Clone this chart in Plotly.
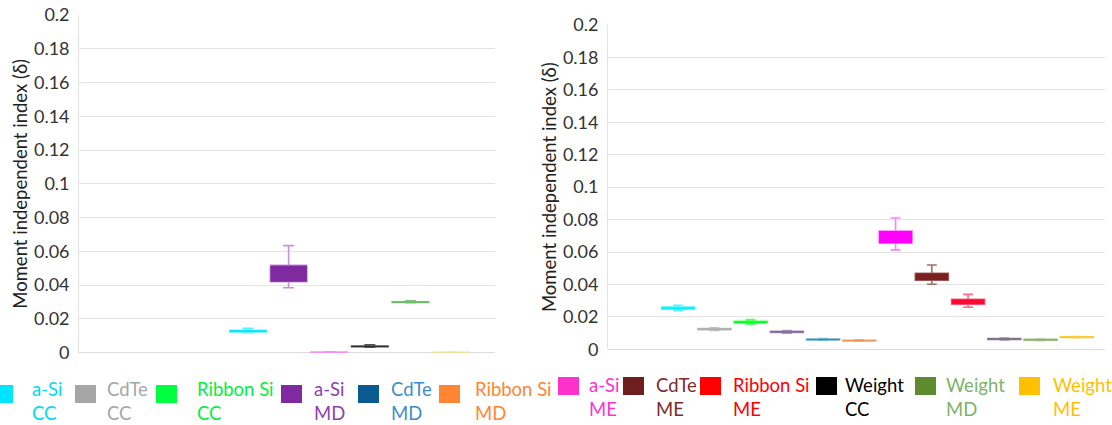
import plotly.graph_objects as go

# ---------------- data ----------------
legend_line1 = ["a-Si", "CdTe", "Ribbon Si", "a-Si", "CdTe", "Ribbon Si",
                "a-Si", "CdTe", "Ribbon Si", "Weight", "Weight", "Weight"]
legend_line2 = ["CC", "CC", "CC", "MD", "MD", "MD",
                "ME", "ME", "ME", "CC", "MD", "ME"]
all_cats = [a + " " + b for a, b in zip(legend_line1, legend_line2)]

tick_vals = [0, 0.02, 0.04, 0.06, 0.08, 0.1, 0.12, 0.14, 0.16, 0.18, 0.2]
tick_text = ["0", "0.02", "0.04", "0.06", "0.08", "0.1", "0.12", "0.14", "0.16", "0.18", "0.2"]

# left panel
left_cats = ["a-Si CC", "a-Si MD", "a-Si ME", "Weight CC", "Weight MD", "Weight ME"]
left_lf  = [0.0119, 0.0385, 0.0001, 0.0033, 0.0296, 0.0001]
left_q1  = [0.0123, 0.0420, 0.0002, 0.0035, 0.0298, 0.0002]
left_med = [0.0127, 0.0470, 0.0003, 0.0037, 0.0300, 0.0002]
left_q3  = [0.0133, 0.0517, 0.0004, 0.0040, 0.0302, 0.0003]
left_uf  = [0.0145, 0.0634, 0.0005, 0.0047, 0.0308, 0.0004]

# right panel
right_cats = all_cats
right_lf  = [0.0238, 0.0117, 0.0155, 0.0099, 0.0056, 0.0050, 0.0613, 0.0401, 0.0259, 0.0058, 0.0054, 0.0071]
right_q1  = [0.0248, 0.0121, 0.0163, 0.0104, 0.0058, 0.0052, 0.0654, 0.0426, 0.0278, 0.0061, 0.0056, 0.0073]
right_med = [0.0254, 0.0124, 0.0168, 0.0107, 0.0061, 0.0054, 0.0690, 0.0448, 0.0292, 0.0063, 0.0059, 0.0075]
right_q3  = [0.0260, 0.0128, 0.0173, 0.0111, 0.0063, 0.0056, 0.0730, 0.0469, 0.0308, 0.0066, 0.0061, 0.0077]
right_uf  = [0.0272, 0.0133, 0.0183, 0.0116, 0.0066, 0.0059, 0.0810, 0.0520, 0.0339, 0.0069, 0.0063, 0.0079]

# ---------------- styles ----------------
left_fill = ["#00E5FF", "#7F2A9F", "#FF66FF", "#222222", "#5BB45B", "#FFD966"]
left_line = ["#5CEFFF", "#C593D6", "#FF8AFF", "#555555", "#7CC47A", "#FFE08A"]

right_fill = ["#00F0FF", "#A6A6A6", "#00FF22", "#7A5A92", "#2F8DB0", "#F08A4B",
              "#FF00FF", "#7B2020", "#FF0A32", "#6A5A78", "#7FA257", "#FFC000"]
right_line = ["#55F6FF", "#BEBEBE", "#55FF66", "#A891B8", "#6FB3CC", "#F5A877",
              "#FF7DFF", "#A86A6A", "#FF6B85", "#958AA0", "#A2BE85", "#FFD24D"]

sq_colors = ["#00E5FF", "#A6A6A6", "#00FF40", "#7F2A9F", "#0B5A8F", "#FF8533",
             "#FF33CC", "#6E1E1E", "#FF0000", "#000000", "#5E8B2E", "#FFC000"]
txt_colors = ["#00D8F5", "#A6A6A6", "#00F040", "#8E3FB0", "#3F8CCB", "#FF8533",
              "#FF33CC", "#7B2C2C", "#FF0000", "#000000", "#7DB36A", "#FFC000"]

FONT = "Lato"
W, H = 1112, 425

fig = go.Figure()


def add_boxes(cats, lf, q1, med, q3, uf, fills, lines, xa, ya, bw):
    for i, c in enumerate(cats):
        fig.add_trace(go.Box(
            x=[c], q1=[q1[i]], median=[med[i]], q3=[q3[i]],
            lowerfence=[lf[i]], upperfence=[uf[i]],
            xaxis=xa, yaxis=ya, width=bw, whiskerwidth=0.3,
            fillcolor=fills[i], line=dict(color=lines[i], width=1.6),
            boxpoints=False, showlegend=False, name=c))
        fig.add_trace(go.Box(
            x=[c], q1=[q1[i]], median=[med[i]], q3=[q3[i]],
            lowerfence=[q1[i]], upperfence=[q3[i]],
            xaxis=xa, yaxis=ya, width=bw, whiskerwidth=0.3,
            fillcolor=fills[i], line=dict(color=fills[i], width=0),
            boxpoints=False, showlegend=False, name=c, hoverinfo="skip"))


add_boxes(left_cats, left_lf, left_q1, left_med, left_q3, left_uf,
          left_fill, left_line, "x", "y", 0.9)
add_boxes(right_cats, right_lf, right_q1, right_med, right_q3, right_uf,
          right_fill, right_line, "x2", "y2", 0.91)

yax_common = dict(
    range=[0, 0.2], tickvals=tick_vals, ticktext=tick_text,
    showgrid=True, gridcolor="#E3E3E3", gridwidth=1.3,
    zeroline=True, zerolinecolor="#DCDCDC", zerolinewidth=1.3,
    showline=True, linecolor="#E3E3E3", linewidth=1.3,
    ticks="", ticklabelstandoff=5, automargin=False,
    tickfont=dict(family=FONT, size=18, color="#333333"),
    title=dict(text="Moment independent index (δ)", standoff=1,
               font=dict(family=FONT, size=18.5, color="#222222")),
)
xax_common = dict(showgrid=False, zeroline=False, showline=False,
                  showticklabels=False, ticks="", automargin=False,
                  type="category")

fig.update_layout(
    width=W, height=H,
    margin=dict(l=0, r=0, t=0, b=0, pad=0),
    paper_bgcolor="white", plot_bgcolor="white",
    boxmode="overlay",
    showlegend=False,
    xaxis=dict(domain=[0.0713, 0.4452], anchor="y", range=[-4.155, 6.084],
               categoryorder="array", categoryarray=left_cats, **xax_common),
    yaxis=dict(domain=[0.1701, 0.9647], anchor="x", **yax_common),
    xaxis2=dict(domain=[0.5470, 0.9934], anchor="y2", range=[-1.93, 11.77],
                categoryorder="array", categoryarray=right_cats, **xax_common),
    yaxis2=dict(domain=[0.1781, 0.9412], anchor="x2", **yax_common),
)

# ---------------- manual legend ----------------
sq_x0 = [-8, 75, 156, 281, 358, 439, 558, 623, 700, 816, 915, 1019]
txt_x = [30, 105, 195, 312, 389, 473, 587, 654, 731, 843, 944, 1051]
shapes = []
annots = []
for i in range(12):
    left_half = i < 6
    sy0, sy1 = (385, 403) if left_half else (377, 395)
    cy = 400.5 if left_half else 397
    shapes.append(dict(type="rect", xref="paper", yref="paper",
                       x0=sq_x0[i] / W, x1=(sq_x0[i] + 21) / W,
                       y0=1 - sy1 / H, y1=1 - sy0 / H,
                       fillcolor=sq_colors[i], line=dict(width=0)))
    annots.append(dict(xref="paper", yref="paper", x=txt_x[i] / W, y=1 - cy / H,
                       xanchor="left", yanchor="middle", align="left", showarrow=False,
                       text=legend_line1[i] + "<br>" + legend_line2[i],
                       font=dict(family=FONT, size=18.5, color=txt_colors[i])))
fig.update_layout(shapes=shapes, annotations=annots)

fig.write_html("out.html", config={"displayModeBar": False},
               post_script="document.body.style.margin='0';document.body.style.overflow='hidden';")
